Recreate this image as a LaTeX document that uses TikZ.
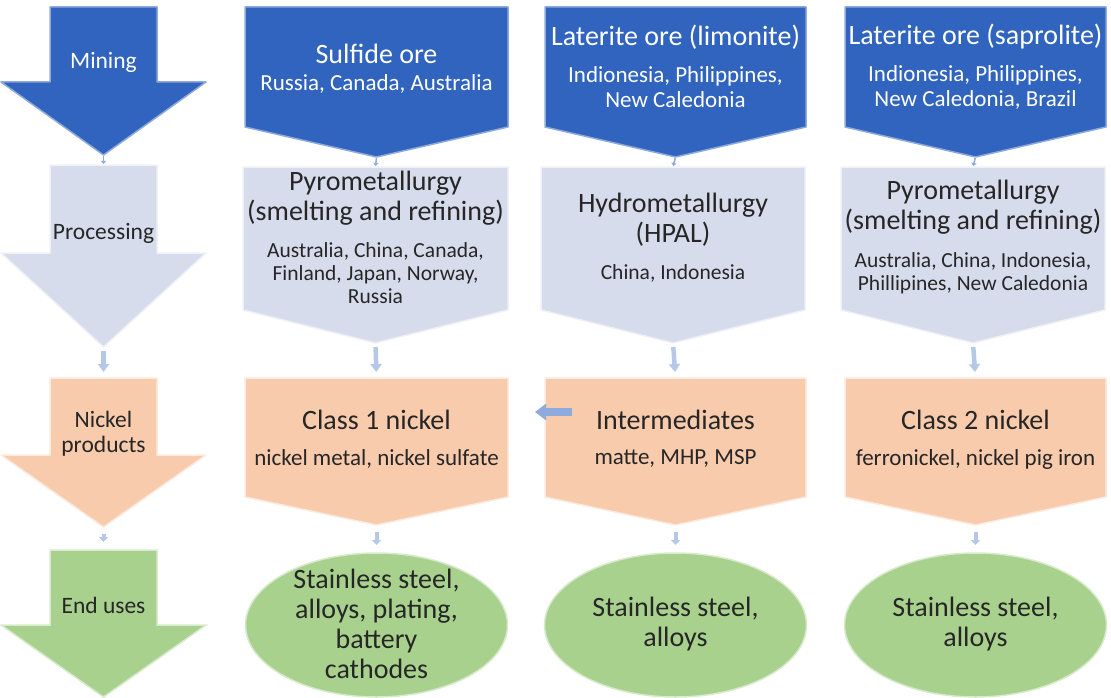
\documentclass[tikz,border=0pt]{standalone}
\usepackage{fontspec}
\setmainfont{Carlito}
\usetikzlibrary{arrows.meta}

\definecolor{oreblue}{RGB}{48,100,190}
\definecolor{procgray}{RGB}{214,220,235}
\definecolor{prodorange}{RGB}{248,203,173}
\definecolor{usegreen}{RGB}{169,209,142}
\definecolor{linkblue}{RGB}{143,170,220}
\definecolor{darktext}{RGB}{38,38,38}

\tikzset{
  orebox/.style={fill=oreblue, draw=oreblue!55!white, line width=1.5pt, line join=round},
  procbox/.style={fill=procgray, draw=procgray!40!white, line width=1.5pt, line join=round},
  prodbox/.style={fill=prodorange, draw=prodorange!40!white, line width=1.5pt, line join=round},
  usebox/.style={fill=usegreen, draw=usegreen!45!white, line width=1.5pt},
  sidelabel/.style={font=\fontsize{23.5}{25}\selectfont, text=darktext, align=center},
  titletext/.style={font=\fontsize{28}{30}\selectfont, text=darktext, align=center},
  subtext/.style={font=\fontsize{23}{25}\selectfont, text=darktext, align=center},
  proctext/.style={font=\fontsize{21.5}{23}\selectfont, text=darktext, align=center},
  tinylink/.style={draw=linkblue, line width=1.5pt, shorten <=1pt, shorten >=1pt, -{Triangle[length=3pt,width=5pt]}},
  downlink/.style={draw=linkblue!65!white, line width=4.5pt, shorten <=4pt, shorten >=6pt, -{Triangle[length=8pt,width=11pt]}},
  lowlink/.style={draw=linkblue!65!white, line width=4pt, shorten <=7pt, shorten >=8pt, -{Triangle[length=5pt,width=9pt]}},
  sidelink/.style={draw=linkblue, line width=8pt, -{Triangle[length=11pt,width=16pt]}}
}

\begin{document}
\begin{tikzpicture}[x=1pt, y=-1pt]
  \useasboundingbox (0,0) rectangle (1111,698);

  % Stage arrows
  \filldraw[orebox] (50,7) -- (103.5,7) coordinate (mining-top) -- (157,7) -- (157,82) -- (206,82)
    -- (103.5,155) coordinate (mining-tip) -- (1,82) -- (50,82) -- cycle;
  \node[sidelabel, text=white] (mining) at (103.5,62) {Mining};

  \filldraw[procbox] (50,165) -- (103.5,165) coordinate (processing-top) -- (157,165) -- (157,253) -- (206,253)
    -- (103.5,347) coordinate (processing-tip) -- (1,253) -- (50,253) -- cycle;
  \node[sidelabel] (processing) at (103.5,233) {Processing};

  \filldraw[prodbox] (50,378) -- (103.5,378) coordinate (products-top) -- (157,378) -- (157,455) -- (206,455)
    -- (103.5,527) coordinate (products-tip) -- (1,455) -- (50,455) -- cycle;
  \node[sidelabel] (products) at (103.5,434) {Nickel\\products};

  \filldraw[usebox] (50,550) -- (103.5,550) coordinate (enduses-top) -- (157,550) -- (157,625) -- (206,625)
    -- (103.5,697) -- (1,625) -- (50,625) -- cycle;
  \node[sidelabel] (enduses) at (103.5,605) {End uses};

  % Ores
  \filldraw[orebox] (245,7) -- (508,7) -- (508,127) -- (376.5,157) coordinate (sulfide-tip) -- (245,127) -- cycle;
  \node[titletext, text=white] (sulfide) at (376.5,54) {Sulfide ore};
  \node[subtext, text=white] (sulfide-c) at (376.5,84) {Russia, Canada, Australia};

  \filldraw[orebox] (545,7) -- (806,7) -- (806,127) -- (675.5,157) coordinate (limonite-tip) -- (545,127) -- cycle;
  \node[titletext, text=white] (limonite) at (675.5,37) {Laterite ore (limonite)};
  \node[subtext, text=white] (limonite-c) at (675.5,87.5) {Indionesia, Philippines,\\New Caledonia};

  \filldraw[orebox] (845,7) -- (1106,7) -- (1106,127) -- (975.5,157) coordinate (saprolite-tip) -- (845,127) -- cycle;
  \node[titletext, text=white] (saprolite) at (975.5,37) {Laterite ore (saprolite)};
  \node[subtext, text=white] (saprolite-c) at (975.5,87.5) {Indionesia, Philippines,\\New Caledonia, Brazil};

  % Processing routes
  \filldraw[procbox] (243,167) -- (375.5,167) coordinate (pyro1-top) -- (508,167) -- (508,310)
    -- (375.5,343) coordinate (pyro1-tip) -- (243,310) -- cycle;
  \node[titletext] (pyro1) at (375.5,198) {Pyrometallurgy\\(smelting and refining)};
  \node[proctext] (pyro1-c) at (375.5,273) {Australia, China, Canada,\\Finland, Japan, Norway,\\Russia};

  \filldraw[procbox] (541,167) -- (673,167) coordinate (hydro-top) -- (805,167) -- (805,310)
    -- (673,343) coordinate (hydro-tip) -- (541,310) -- cycle;
  \node[titletext] (hydro) at (673,220) {Hydrometallurgy\\(HPAL)};
  \node[proctext] (hydro-c) at (673,273) {China, Indonesia};

  \filldraw[procbox] (841,167) -- (973,167) coordinate (pyro2-top) -- (1105,167) -- (1105,310)
    -- (973,343) coordinate (pyro2-tip) -- (841,310) -- cycle;
  \node[titletext] (pyro2) at (973,207) {Pyrometallurgy\\(smelting and refining)};
  \node[proctext] (pyro2-c) at (973,273.5) {Australia, China, Indonesia,\\Phillipines, New Caledonia};

  % Nickel products
  \filldraw[prodbox] (245,378) -- (376.5,378) coordinate (class1-top) -- (508,378) -- (508,497)
    -- (376.5,525) coordinate (class1-tip) -- (245,497) -- cycle;
  \coordinate (class1-out) at (535,412);
  \node[titletext] (class1) at (376.5,420) {Class 1 nickel};
  \node[subtext] (class1-c) at (376.5,459) {nickel metal, nickel sulfate};

  \filldraw[prodbox] (545,378) -- (675.5,378) coordinate (inter-top) -- (806,378) -- (806,497)
    -- (675.5,525) coordinate (inter-tip) -- (545,497) -- cycle;
  \coordinate (inter-in) at (572,412);
  \node[titletext] (inter) at (675.5,420) {Intermediates};
  \node[subtext] (inter-c) at (675.5,459) {matte, MHP, MSP};

  \filldraw[prodbox] (845,378) -- (975.5,378) coordinate (class2-top) -- (1106,378) -- (1106,497)
    -- (975.5,525) coordinate (class2-tip) -- (845,497) -- cycle;
  \node[titletext] (class2) at (975.5,420) {Class 2 nickel};
  \node[subtext] (class2-c) at (975.5,459) {ferronickel, nickel pig iron};

  % End uses
  \filldraw[usebox] (376.5,625) ellipse [x radius=131, y radius=72];
  \coordinate (use1-top) at (376.5,553);
  \node[titletext] (use1) at (376.5,624) {Stainless steel,\\alloys, plating,\\battery\\cathodes};

  \filldraw[usebox] (675.5,625) ellipse [x radius=131, y radius=72];
  \coordinate (use2-top) at (675.5,553);
  \node[titletext] (use2) at (675.5,624) {Stainless steel,\\alloys};

  \filldraw[usebox] (975.5,625) ellipse [x radius=131, y radius=72];
  \coordinate (use3-top) at (975.5,553);
  \node[titletext] (use3) at (975.5,624) {Stainless steel,\\alloys};

  % Links
  \draw[tinylink] (mining-tip) -- (processing-top);
  \draw[tinylink] (sulfide-tip) -- (pyro1-top);
  \draw[tinylink] (limonite-tip) -- (hydro-top);
  \draw[tinylink] (saprolite-tip) -- (pyro2-top);

  \draw[downlink] (processing-tip) -- (products-top);
  \draw[downlink] (pyro1-tip) -- (class1-top);
  \draw[downlink] (hydro-tip) -- (inter-top);
  \draw[downlink] (pyro2-tip) -- (class2-top);

  \draw[lowlink] (products-tip) -- (enduses-top);
  \draw[lowlink] (class1-tip) -- (use1-top);
  \draw[lowlink] (inter-tip) -- (use2-top);
  \draw[lowlink] (class2-tip) -- (use3-top);

  \draw[sidelink] (inter-in) -- (class1-out);
\end{tikzpicture}
\end{document}
